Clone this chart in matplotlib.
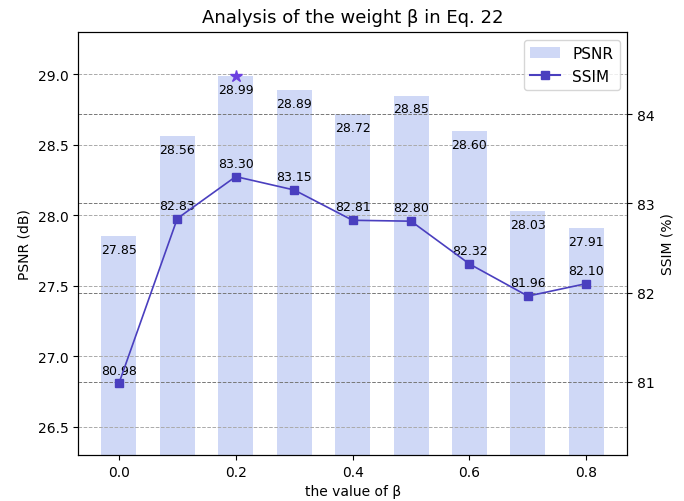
import matplotlib
matplotlib.use("Agg")
import matplotlib.pyplot as plt
from matplotlib.patches import Patch
from matplotlib.lines import Line2D

beta = [0.0, 0.1, 0.2, 0.3, 0.4, 0.5, 0.6, 0.7, 0.8]
psnr = [27.85, 28.56, 28.99, 28.89, 28.72, 28.85, 28.60, 28.03, 27.91]
ssim = [80.98, 82.83, 83.30, 83.15, 82.81, 82.80, 82.32, 81.96, 82.10]
best_idx = 2

bar_color = "#cfd8f6"
line_color = "#4a3fbf"
star_color = "#6b3fe0"

fig = plt.figure(figsize=(6.84, 5.02), dpi=100)
ax = fig.add_axes([0.114, 0.092, 0.803, 0.842])
ax.bar(beta, psnr, width=0.06, color=bar_color, zorder=1)
ax.set_ylim(26.3, 29.3)
ax.set_xlim(-0.07, 0.87)
ax.set_xticks([0.0, 0.2, 0.4, 0.6, 0.8])
ax.set_yticks([26.5, 27.0, 27.5, 28.0, 28.5, 29.0])
ax.yaxis.grid(True, linestyle="--", color="#aaaaaa", linewidth=0.7, zorder=2)
ax.set_axisbelow(False)
for x, v in zip(beta, psnr):
    ax.annotate(f"{v:.2f}", (x, v), xytext=(0, -5), textcoords="offset points",
                ha="center", va="top", fontsize=9, zorder=3)
ax.plot([beta[best_idx]], [psnr[best_idx]], marker="*", color=star_color,
        markersize=9, linestyle="none", zorder=4)
ax.set_xlabel("the value of β", fontsize=10)
ax.set_ylabel("PSNR (dB)", fontsize=10)
ax.set_title("Analysis of the weight β in Eq. 22", fontsize=13, pad=7)

ax2 = ax.twinx()
ax2.plot(beta, ssim, marker="s", color=line_color, linewidth=1.2, markersize=6, zorder=5)
ax2.set_ylim(80.18, 84.92)
ax2.set_yticks([81, 82, 83, 84])
ax2.yaxis.grid(True, linestyle="--", color="#777777", linewidth=0.7)
for x, v in zip(beta, ssim):
    ax2.annotate(f"{v:.2f}", (x, v), xytext=(0, 5), textcoords="offset points",
                 ha="center", va="bottom", fontsize=9)
ax2.set_ylabel("SSIM (%)", fontsize=10)

handles = [Patch(facecolor=bar_color, label="PSNR"),
           Line2D([0], [0], color=line_color, marker="s", markersize=6, label="SSIM")]
ax2.legend(handles=handles, loc="upper right", fontsize=11)

fig.savefig("out.png", dpi=100)
